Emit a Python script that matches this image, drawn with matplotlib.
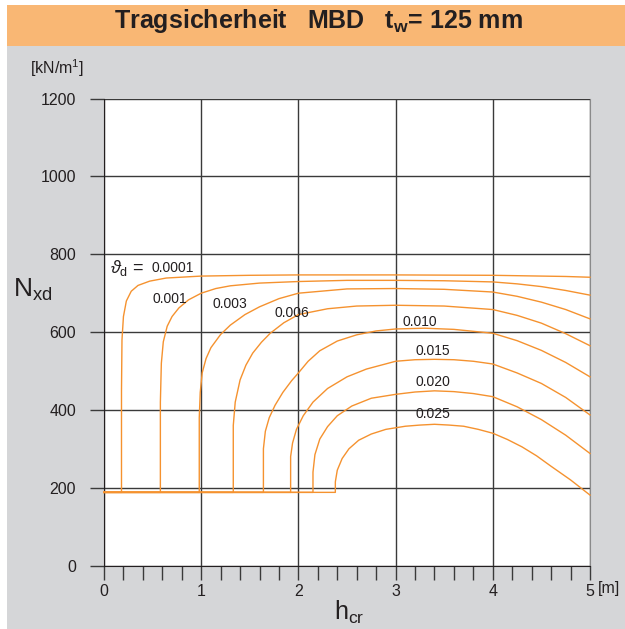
import matplotlib
matplotlib.use("Agg")
import matplotlib.pyplot as plt
from matplotlib.patches import Rectangle
from matplotlib.ticker import MultipleLocator

plt.rcParams['font.family'] = ['Liberation Sans', 'DejaVu Sans']
plt.rcParams['mathtext.fontset'] = 'custom'
plt.rcParams['mathtext.rm'] = 'Liberation Sans'
plt.rcParams['mathtext.it'] = 'Liberation Sans:italic'
plt.rcParams['mathtext.bf'] = 'Liberation Sans:bold'

# design angle theta_d for each curve
theta_labels = ["0.0001", "0.001", "0.003", "0.006", "0.010", "0.015", "0.020", "0.025"]

# h_cr [m] / N_xd [kN/m] for each curve
h_0001 = [0, 0.18, 0.18, 0.185, 0.20, 0.23, 0.28, 0.35, 0.47, 0.64, 1.0, 1.5, 2.0, 3.0, 4.0, 4.5, 4.75, 5.0]
n_0001 = [188, 188, 450, 580, 640, 680, 705, 720, 731, 739, 744, 746, 747, 747, 746, 744, 743, 741]

h_001 = [0, 0.58, 0.58, 0.59, 0.61, 0.65, 0.70, 0.77, 0.87, 1.0, 1.15, 1.3, 1.6, 2.0, 2.5, 3.0, 3.5, 4.0, 4.25, 4.5, 4.75, 5.0]
n_001 = [188, 188, 420, 520, 575, 615, 640, 662, 683, 700, 712, 719, 726, 730, 733, 733, 732, 729, 724, 717, 707, 695]

h_003 = [0, 0.98, 0.98, 0.99, 1.01, 1.05, 1.1, 1.2, 1.3, 1.45, 1.6, 1.8, 2.0, 2.5, 3.0, 3.5, 4.0, 4.25, 4.5, 4.75, 5.0]
n_003 = [188, 188, 380, 445, 495, 532, 560, 594, 618, 645, 665, 686, 700, 711, 712, 710, 703, 692, 677, 658, 634]

h_006 = [0, 1.33, 1.33, 1.35, 1.40, 1.46, 1.53, 1.62, 1.71, 1.85, 2.0, 2.3, 2.6, 3.0, 3.5, 4.0, 4.25, 4.5, 4.75, 5.0]
n_006 = [188, 188, 360, 420, 477, 515, 546, 574, 597, 624, 645, 660, 667, 669, 667, 658, 643, 623, 596, 565]

h_010 = [0, 1.64, 1.64, 1.66, 1.70, 1.76, 1.84, 1.93, 2.0, 2.1, 2.22, 2.4, 2.6, 2.8, 3.0, 3.3, 3.6, 4.0, 4.25, 4.5, 4.75, 5.0]
n_010 = [188, 188, 300, 345, 380, 412, 445, 475, 495, 525, 552, 577, 593, 603, 608, 610, 607, 597, 578, 553, 522, 485]

h_015 = [0, 1.92, 1.92, 1.94, 1.98, 2.05, 2.15, 2.3, 2.5, 2.7, 3.0, 3.2, 3.4, 3.6, 3.8, 4.0, 4.25, 4.5, 4.75, 5.0]
n_015 = [188, 188, 280, 315, 350, 385, 420, 455, 485, 505, 525, 529, 530, 529, 525, 518, 495, 468, 432, 387]

h_020 = [0, 2.15, 2.15, 2.17, 2.22, 2.3, 2.4, 2.55, 2.75, 3.0, 3.2, 3.4, 3.6, 3.8, 4.0, 4.25, 4.5, 4.75, 5.0]
n_020 = [188, 188, 240, 285, 325, 357, 385, 410, 430, 440, 446, 449, 447, 442, 434, 408, 375, 335, 288]

h_025 = [0, 2.38, 2.38, 2.40, 2.45, 2.52, 2.62, 2.75, 2.9, 3.1, 3.25, 3.4, 3.55, 3.7, 3.85, 4.0, 4.15, 4.3, 4.45, 4.6, 4.8, 5.0]
n_025 = [188, 188, 215, 245, 275, 300, 322, 338, 350, 358, 361, 363, 361, 358, 350, 340, 324, 305, 282, 255, 220, 181]

curves = [(h_0001, n_0001), (h_001, n_001), (h_003, n_003), (h_006, n_006),
          (h_010, n_010), (h_015, n_015), (h_020, n_020), (h_025, n_025)]

# label anchor (h, N) for each curve name
label_h = [0.71, 0.68, 1.29, 1.93, 3.25, 3.38, 3.38, 3.38]
label_n = [765, 685, 672, 649, 626, 551, 472, 390]

x_ticks = [0, 1, 2, 3, 4, 5]
y_ticks = [0, 200, 400, 600, 800, 1000, 1200]

W, H = 625, 629
fig = plt.figure(figsize=(W / 100, H / 100), dpi=100)
fig.patch.set_facecolor('#D5D6D8')

# white frame strips and orange title band
fig.add_artist(Rectangle((0, 0), 7 / W, 1, transform=fig.transFigure,
                         facecolor='white', edgecolor='none', zorder=0))
fig.add_artist(Rectangle((0, 1 - 5 / H), 1, 5 / H, transform=fig.transFigure,
                         facecolor='white', edgecolor='none', zorder=0))
fig.add_artist(Rectangle((7 / W, 1 - 46 / H), 1, 41 / H, transform=fig.transFigure,
                         facecolor='#F9B774', edgecolor='none', zorder=0))
fig.text(318 / W, 1 - 21 / H, r'Tragsicherheit   MBD   t$_\mathbf{w}$= 125 mm',
         ha='center', va='center', fontsize=18, fontweight='bold', color='#231F20')

ax = fig.add_axes([104 / W, 1 - 565.5 / H, 486 / W, 466.8 / H])
ax.set_facecolor('white')
ax.set_xlim(0, 5)
ax.set_ylim(0, 1200)

ax.set_xticks(x_ticks)
ax.xaxis.set_minor_locator(MultipleLocator(0.2))
ax.set_yticks(y_ticks)
ax.grid(True, which='major', color='#3a3a3a', linewidth=1.0)
ax.set_axisbelow(True)

ax.tick_params(axis='both', which='both', direction='out', length=10, width=1.0,
               color='#3a3a3a', labelsize=11.5, labelcolor='#231F20')
ax.tick_params(axis='y', pad=10)
ax.tick_params(axis='x', pad=3)

ax.spines['top'].set_visible(False)
ax.spines['right'].set_color('#8a8a8a')
ax.spines['left'].set_color('#231F20')
ax.spines['bottom'].set_color('#231F20')

for h, n in curves:
    ax.plot(h, n, color='#F5922F', linewidth=1.0, solid_joinstyle='round',
            clip_on=False, zorder=3)

ax.text(0.06, label_n[0], r'$\vartheta_\mathrm{d}$ =', ha='left', va='center',
        fontsize=13, color='#231F20')
for i, lab in enumerate(theta_labels):
    ax.text(label_h[i], label_n[i], lab, ha='center', va='center',
            fontsize=10, color='#231F20', zorder=4)

fig.text(57 / W, 1 - 68 / H, r'[kN/m$^1$]', ha='center', va='center',
         fontsize=11.5, color='#231F20')
fig.text(33 / W, 1 - 290 / H, r'N$_\mathrm{xd}$', ha='center', va='center',
         fontsize=19, color='#231F20')
fig.text(349 / W, 1 - 612 / H, r'h$_\mathrm{cr}$', ha='center', va='center',
         fontsize=18, color='#231F20')
fig.text(609 / W, 1 - 588 / H, '[m]', ha='center', va='center',
         fontsize=11.5, color='#231F20')

fig.savefig('out.png', dpi=100, facecolor=fig.get_facecolor())
